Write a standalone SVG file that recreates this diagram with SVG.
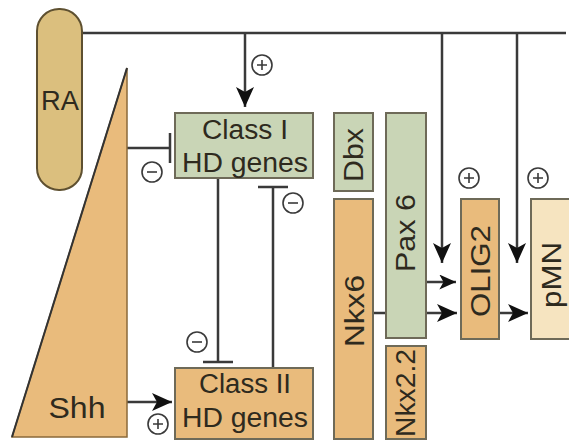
<svg xmlns="http://www.w3.org/2000/svg" width="569" height="440" viewBox="0 0 569 440">
<defs>
<style>
.ln{stroke:#3a3a3a;stroke-width:2.5;fill:none}
.box{stroke:#6e6a58;stroke-width:2}
.or{fill:#e9bb7c}
.gr{fill:#c9d5b6}
.cr{fill:#f6e4c0}
.t{font-family:"Liberation Sans",Arial,sans-serif;font-size:27px;fill:#2e2a1e;text-anchor:middle}
.sg{fill:#fff;stroke:#3a3a3a;stroke-width:1.6}
.sgl{stroke:#3a3a3a;stroke-width:1.6}
</style>
<marker id="ah" viewBox="0 0 20 18" refX="20" refY="9" markerWidth="20" markerHeight="18" markerUnits="userSpaceOnUse" orient="auto">
<path d="M0,0 L20,9 L0,18 L5,9 z" fill="#111"/>
</marker>
<marker id="ahs" viewBox="0 0 20 18" refX="20" refY="9" markerWidth="17" markerHeight="15" markerUnits="userSpaceOnUse" orient="auto">
<path d="M0,0 L20,9 L0,18 L5,9 z" fill="#111"/>
</marker>
<g id="plus"><circle class="sg" r="10"/><path class="sgl" d="M-5,0 H5 M0,-5 V5"/></g>
<g id="minus"><circle class="sg" r="10"/><path class="sgl" d="M-5,0 H5"/></g>
</defs>
<rect width="569" height="440" fill="#fff"/>

<g id="connectors">
<path class="ln" d="M82,33 H566"/>
<path class="ln" d="M245,33 V107" marker-end="url(#ah)"/>
<path class="ln" d="M442,33 V263" marker-end="url(#ah)"/>
<path class="ln" d="M517,33 V263" marker-end="url(#ah)"/>
<path class="ln" d="M127,148 H170 M170,133 V163"/>
<path class="ln" d="M218,178 V362 M203,362 H233"/>
<path class="ln" d="M273,368 V187 M258,187 H288"/>
<path class="ln" d="M127,402 H172" marker-end="url(#ah)"/>
<path class="ln" d="M426,282 H456" marker-end="url(#ahs)"/>
<path class="ln" d="M373,313 H457" marker-end="url(#ah)"/>
<path class="ln" d="M499,313 H528" marker-end="url(#ah)"/>
<use href="#plus" x="262" y="65"/>
<use href="#minus" x="152" y="172"/>
<use href="#minus" x="197" y="342"/>
<use href="#minus" x="293" y="203"/>
<use href="#plus" x="158" y="424"/>
<use href="#plus" x="469" y="178"/>
<use href="#plus" x="538" y="178"/>
</g>

<g id="RA">
<rect x="37" y="9" width="45" height="181" rx="22" ry="22" fill="#dbbf7e" stroke="#5e5030" stroke-width="2"/>
<text class="t" x="60" y="110" textLength="38" lengthAdjust="spacingAndGlyphs">RA</text>
</g>

<g id="Shh">
<path d="M127,68 L12,437 H127 Z" fill="#e9bb7c" stroke="#8a6a3a" stroke-width="1.5"/>
<path d="M127,68 L12,437" stroke="#333" stroke-width="2" fill="none"/>
<text class="t" x="77" y="418" style="font-size:29px" textLength="57" lengthAdjust="spacingAndGlyphs">Shh</text>
</g>

<g id="classI">
<rect class="box gr" x="175" y="113" width="138" height="65"/>
<text class="t" x="245" y="139" textLength="86" lengthAdjust="spacingAndGlyphs">Class I</text>
<text class="t" x="245" y="172" textLength="126" lengthAdjust="spacingAndGlyphs">HD genes</text>
</g>

<g id="classII">
<rect class="box or" x="175" y="368" width="138" height="71"/>
<text class="t" x="245" y="393" textLength="92" lengthAdjust="spacingAndGlyphs">Class II</text>
<text class="t" x="245" y="427" textLength="126" lengthAdjust="spacingAndGlyphs">HD genes</text>
</g>

<g id="Dbx">
<rect class="box gr" x="334" y="113" width="39" height="78"/>
<text class="t" transform="translate(363,155) rotate(-90)" textLength="54" lengthAdjust="spacingAndGlyphs">Dbx</text>
</g>

<g id="Nkx6">
<rect class="box or" x="334" y="199" width="39" height="240"/>
<text class="t" transform="translate(364,311) rotate(-90)" textLength="72" lengthAdjust="spacingAndGlyphs">Nkx6</text>
</g>

<g id="Pax6">
<rect class="box gr" x="386" y="113" width="40" height="225"/>
<text class="t" transform="translate(415,233) rotate(-90)" textLength="78" lengthAdjust="spacingAndGlyphs">Pax 6</text>
</g>

<g id="Nkx22">
<rect class="box or" x="386" y="346" width="40" height="93"/>
<text class="t" transform="translate(415,393) rotate(-90)" textLength="88" lengthAdjust="spacingAndGlyphs">Nkx2.2</text>
</g>

<g id="OLIG2">
<rect class="box or" x="461" y="199" width="38" height="140"/>
<text class="t" transform="translate(490,271) rotate(-90)" textLength="92" lengthAdjust="spacingAndGlyphs">OLIG2</text>
</g>

<g id="pMN">
<rect class="box cr" x="531" y="199" width="42" height="140"/>
<text class="t" transform="translate(561,275) rotate(-90)" textLength="66" lengthAdjust="spacingAndGlyphs">pMN</text>
</g>
</svg>
